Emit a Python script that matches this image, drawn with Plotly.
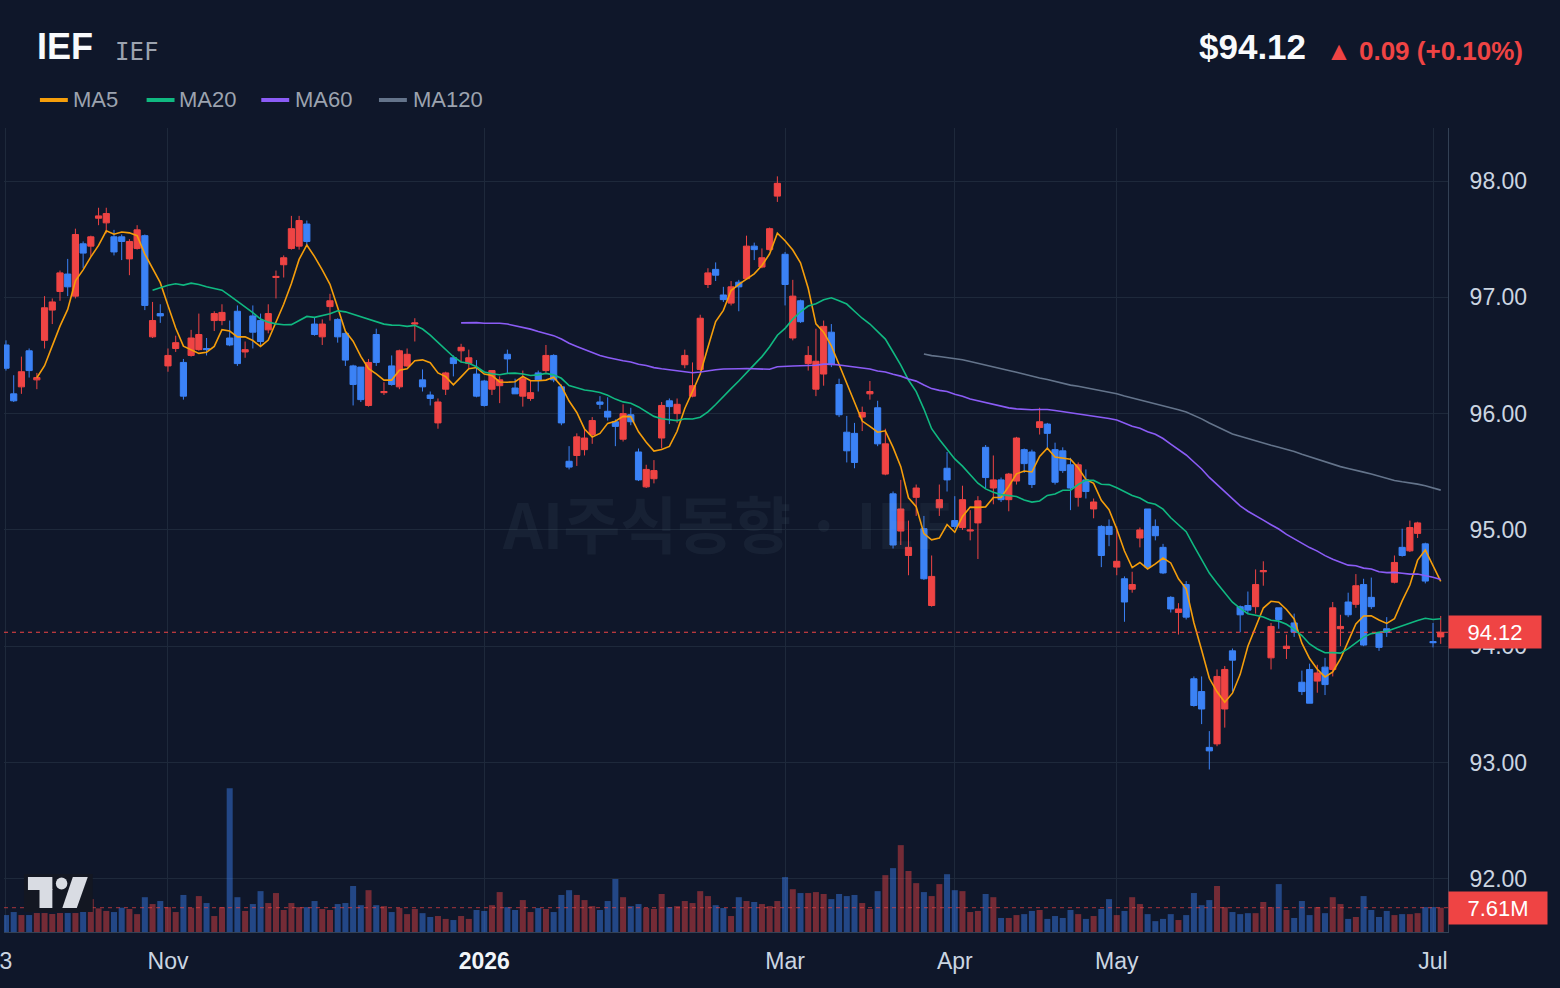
import pandas as pd
import plotly.graph_objects as go

# ---------------- data ----------------
HOLIDAYS = ["2025-11-27", "2025-12-25", "2026-01-01", "2026-01-19",
            "2026-02-16", "2026-04-03", "2026-05-25", "2026-06-19"]
DATES = [d.strftime("%Y-%m-%d") for d in pd.bdate_range("2025-10-03", "2026-07-02")
         if d.strftime("%Y-%m-%d") not in HOLIDAYS]

OPEN = [96.59, 96.17, 96.23, 96.54, 96.29, 96.63, 96.89, 97.05, 97.20, 97.01,
        97.46, 97.44, 97.68, 97.64, 97.52, 97.52, 97.33, 97.42, 97.53, 96.66,
        96.86, 96.41, 96.56, 96.44, 96.50, 96.55, 96.56, 96.80, 96.80, 96.65,
        96.88, 96.53, 96.84, 96.80, 96.72, 97.17, 97.28, 97.42, 97.44, 97.63,
        96.77, 96.66, 96.92, 96.81, 96.69, 96.41, 96.40, 96.07, 96.68, 96.18,
        96.41, 96.23, 96.41, 96.77, 96.29, 96.16, 95.92, 96.21, 96.48, 96.54,
        96.43, 96.34, 96.28, 96.21, 96.24, 96.51, 96.22, 96.15, 96.13, 96.35,
        96.37, 96.50, 96.23, 95.59, 95.64, 95.69, 95.82, 96.10, 96.02, 95.93,
        95.78, 95.99, 95.67, 95.37, 95.44, 95.79, 96.11, 96.00, 96.42, 96.15,
        96.38, 97.11, 97.24, 97.02, 96.95, 97.13, 97.16, 97.44, 97.26, 97.41,
        97.87, 97.37, 96.65, 96.97, 96.43, 96.21, 96.34, 96.70, 96.25, 95.84,
        95.83, 95.97, 96.17, 96.05, 95.48, 95.31, 94.99, 94.78, 95.28, 95.01,
        94.35, 95.19, 95.53, 95.08, 95.02, 94.99, 95.06, 95.71, 95.36, 95.43,
        95.26, 95.42, 95.69, 95.67, 95.88, 95.91, 95.69, 95.68, 95.56, 95.28,
        95.43, 95.18, 95.03, 95.03, 94.68, 94.58, 94.49, 94.93, 95.18, 95.03,
        94.85, 94.42, 94.29, 94.53, 93.72, 93.61, 93.13, 93.16, 93.46, 93.96,
        94.34, 94.35, 94.34, 94.64, 93.90, 94.33, 93.98, 94.20, 93.69, 93.80,
        93.70, 93.82, 93.80, 94.15, 94.38, 94.36, 94.53, 94.42, 94.11, 94.15,
        94.55, 94.85, 94.82, 94.97, 94.88, 94.04, 94.08]

HIGH = [96.63, 96.33, 96.49, 96.56, 96.35, 97.01, 96.99, 97.23, 97.33, 97.59,
        97.48, 97.53, 97.77, 97.77, 97.58, 97.54, 97.50, 97.62, 97.54, 96.96,
        96.94, 96.56, 96.67, 96.47, 96.72, 96.86, 96.65, 96.88, 96.94, 96.80,
        96.93, 96.62, 96.93, 96.86, 96.94, 97.23, 97.36, 97.70, 97.70, 97.66,
        96.83, 96.81, 97.03, 96.82, 96.70, 96.42, 96.40, 96.47, 96.73, 96.27,
        96.50, 96.55, 96.56, 96.82, 96.38, 96.19, 96.13, 96.36, 96.50, 96.60,
        96.55, 96.46, 96.29, 96.37, 96.32, 96.55, 96.30, 96.37, 96.29, 96.37,
        96.59, 96.51, 96.25, 95.72, 95.83, 95.86, 95.97, 96.15, 96.14, 95.95,
        96.08, 96.05, 95.70, 95.56, 95.60, 96.10, 96.13, 96.13, 96.55, 96.44,
        96.85, 97.25, 97.30, 97.09, 97.14, 97.15, 97.53, 97.47, 97.42, 97.60,
        98.04, 97.39, 97.15, 96.98, 96.58, 96.73, 96.80, 96.77, 96.30, 95.98,
        95.92, 96.06, 96.28, 96.11, 95.87, 95.33, 95.43, 95.08, 95.39, 95.12,
        94.78, 95.39, 95.67, 95.29, 95.38, 95.17, 95.29, 95.73, 95.64, 95.45,
        95.49, 95.80, 95.70, 95.69, 96.05, 95.92, 95.75, 95.71, 95.62, 95.58,
        95.52, 95.27, 95.04, 95.09, 95.03, 94.60, 94.64, 95.02, 95.18, 95.09,
        94.88, 94.43, 94.37, 94.56, 93.74, 93.74, 93.27, 93.80, 93.83, 93.98,
        94.35, 94.47, 94.66, 94.73, 94.20, 94.33, 94.10, 94.28, 93.79, 93.85,
        93.84, 93.90, 94.38, 94.27, 94.46, 94.62, 94.58, 94.59, 94.11, 94.25,
        94.78, 95.01, 95.08, 95.07, 94.89, 94.20, 94.26]

LOW = [96.37, 96.10, 96.17, 96.31, 96.21, 96.56, 96.77, 96.97, 97.01, 96.99,
       97.25, 97.35, 97.62, 97.55, 97.36, 97.32, 97.19, 97.41, 96.89, 96.65,
       96.78, 96.36, 96.53, 96.12, 96.49, 96.54, 96.50, 96.71, 96.76, 96.58,
       96.41, 96.48, 96.56, 96.59, 96.69, 96.99, 97.17, 97.41, 97.41, 97.45,
       96.67, 96.59, 96.80, 96.61, 96.41, 96.07, 96.10, 96.06, 96.41, 96.16,
       96.24, 96.21, 96.40, 96.62, 96.19, 96.07, 95.87, 96.16, 96.32, 96.44,
       96.39, 96.14, 96.06, 96.16, 96.09, 96.34, 96.17, 96.06, 96.11, 96.19,
       96.35, 96.27, 95.90, 95.52, 95.55, 95.64, 95.74, 96.04, 95.94, 95.72,
       95.76, 95.90, 95.42, 95.36, 95.40, 95.70, 95.91, 95.92, 96.39, 96.14,
       96.37, 97.08, 97.14, 96.96, 96.93, 96.88, 97.15, 97.32, 97.25, 97.40,
       97.82, 96.93, 96.63, 96.78, 96.37, 96.15, 96.24, 96.40, 95.97, 95.58,
       95.53, 95.85, 96.12, 95.72, 95.47, 94.84, 94.87, 94.61, 95.12, 94.57,
       94.34, 95.12, 95.33, 95.01, 95.00, 94.91, 94.75, 95.36, 95.22, 95.24,
       95.16, 95.39, 95.49, 95.36, 95.82, 95.70, 95.39, 95.49, 95.17, 95.20,
       95.27, 95.10, 94.68, 94.86, 94.61, 94.21, 94.46, 94.85, 94.67, 94.91,
       94.62, 94.29, 94.10, 94.23, 93.48, 93.33, 92.94, 93.14, 93.30, 93.61,
       94.12, 94.28, 94.28, 94.52, 93.80, 94.15, 93.89, 94.08, 93.58, 93.51,
       93.60, 93.58, 93.74, 94.00, 94.25, 94.33, 94.00, 94.32, 93.96, 94.08,
       94.54, 94.77, 94.81, 94.93, 94.54, 93.99, 94.02]

CLOSE = [96.39, 96.11, 96.36, 96.37, 96.31, 96.91, 96.96, 97.21, 97.09, 97.54,
         97.38, 97.52, 97.70, 97.72, 97.39, 97.48, 97.48, 97.58, 96.93, 96.80,
         96.84, 96.50, 96.61, 96.15, 96.65, 96.68, 96.55, 96.86, 96.87, 96.59,
         96.43, 96.55, 96.70, 96.62, 96.86, 97.18, 97.34, 97.59, 97.66, 97.48,
         96.68, 96.77, 96.97, 96.66, 96.46, 96.25, 96.12, 96.44, 96.44, 96.19,
         96.25, 96.54, 96.51, 96.78, 96.23, 96.13, 96.10, 96.35, 96.43, 96.57,
         96.48, 96.15, 96.07, 96.37, 96.29, 96.47, 96.17, 96.30, 96.18, 96.29,
         96.50, 96.29, 95.92, 95.54, 95.80, 95.79, 95.94, 96.08, 95.97, 95.89,
         96.00, 95.93, 95.43, 95.52, 95.51, 96.07, 96.06, 96.08, 96.50, 96.24,
         96.82, 97.21, 97.19, 96.98, 97.09, 97.09, 97.44, 97.41, 97.34, 97.59,
         97.98, 97.11, 97.01, 96.79, 96.50, 96.45, 96.75, 96.42, 95.99, 95.68,
         95.58, 96.01, 96.19, 95.74, 95.74, 94.87, 95.18, 94.85, 95.36, 94.58,
         94.60, 95.26, 95.43, 95.03, 95.26, 95.00, 95.25, 95.45, 95.43, 95.26,
         95.48, 95.79, 95.57, 95.39, 95.93, 95.83, 95.41, 95.51, 95.36, 95.56,
         95.33, 95.24, 94.78, 94.96, 94.73, 94.38, 94.53, 95.00, 94.68, 94.95,
         94.63, 94.32, 94.32, 94.25, 93.49, 93.46, 93.10, 93.74, 93.80, 93.88,
         94.27, 94.31, 94.53, 94.65, 94.17, 94.23, 94.00, 94.12, 93.61, 93.51,
         93.77, 93.67, 94.33, 94.17, 94.27, 94.52, 94.01, 94.34, 93.99, 94.12,
         94.72, 94.78, 95.02, 95.06, 94.56, 94.03, 94.12]

VOLUME_M = [5.31, 6.25, 5.31, 5.31, 5.94, 5.94, 5.63, 5.94, 5.94, 5.94,
            8.0, 10.3, 7.4, 6.6, 6.25, 7.6, 7.2, 5.6, 10.9, 8.75,
            9.7, 7.8, 6.25, 11.6, 7.6, 11.25, 9.07, 5.0, 7.8, 45.0,
            10.9, 6.6, 8.75, 12.8, 9.07, 12.2, 6.9, 9.07, 7.8, 7.8,
            9.7, 7.2, 6.9, 8.75, 9.07, 14.4, 8.4, 13.1, 8.4, 8.1,
            6.25, 7.5, 5.6, 7.2, 5.9, 4.7, 5.0, 4.1, 3.75, 5.0,
            4.1, 6.9, 6.6, 8.4, 12.5, 7.8, 6.9, 10.0, 6.25, 7.5,
            7.2, 6.25, 11.6, 13.1, 11.6, 10.0, 8.1, 6.9, 9.7, 16.6,
            10.9, 8.1, 8.75, 7.5, 7.2, 11.9, 7.8, 8.1, 9.7, 9.07,
            12.8, 11.25, 8.4, 7.5, 5.0, 10.9, 9.7, 9.4, 8.75, 8.1,
            9.7, 17.2, 13.4, 12.2, 12.2, 12.5, 11.9, 10.3, 11.9, 11.25,
            11.6, 9.07, 7.2, 12.8, 17.8, 20.0, 27.2, 19.1, 15.3, 12.5,
            11.25, 15.0, 18.1, 13.1, 12.8, 6.25, 6.6, 11.9, 10.9, 4.4,
            4.4, 5.3, 5.6, 6.6, 6.9, 4.1, 5.0, 4.4, 6.9, 5.6,
            4.1, 5.0, 7.2, 10.3, 5.3, 6.6, 10.9, 8.75, 5.6, 3.4,
            4.1, 5.6, 3.75, 5.3, 12.2, 8.4, 10.0, 14.4, 7.8, 6.25,
            5.6, 5.9, 5.9, 9.4, 7.8, 15.0, 6.9, 4.4, 9.7, 5.3,
            7.8, 5.9, 10.9, 8.75, 4.1, 4.7, 11.25, 6.9, 4.7, 6.6,
            5.3, 5.6, 5.6, 5.9, 7.8, 7.8, 7.61]

TICK_DATES = ["2025-10-03", "2025-11-03", "2026-01-02", "2026-03-02",
              "2026-04-01", "2026-05-01", "2026-07-01"]
TICK_TEXT = ["3", "Nov", "<b><span style='color:#f1f5f9'>2026</span></b>",
             "Mar", "Apr", "May", "Jul"]
PRICE_TICKS = [92, 93, 94, 95, 96, 97, 98]

MA_PERIODS = [5, 20, 60, 120]
MA_COLORS = ["#f59e0b", "#10b981", "#8b5cf6", "#64748b"]
MA_NAMES = ["MA5", "MA20", "MA60", "MA120"]

LAST_PRICE = CLOSE[-1]
PREV_CLOSE = CLOSE[-2]
LAST_VOL = VOLUME_M[-1]

# ---------------- styling ----------------
BG = "#0f172a"
GRID = "#1e293b"
UP = "#ef4444"
DOWN = "#3b82f6"
FONT = "Liberation Sans, Arial, sans-serif"

W, H = 1560, 988
ML, MR, MT, MB = 0, 112, 128, 56
PW, PH = W - ML - MR, H - MT - MB
BAR_PX = 7.735   # pixels per bar
FIRST_PX = 2.0   # pixel position of first bar


def px(x):
    return x / PW


def py(y):
    return (H - MB - y) / PH


vol = [v * 1e6 for v in VOLUME_M]
vol_colors = ["rgba(239,68,68,0.45)" if c > o else "rgba(59,130,246,0.45)"
              for o, c in zip(OPEN, CLOSE)]

fig = go.Figure()

fig.add_trace(go.Bar(
    x=DATES, y=vol, yaxis="y2", marker=dict(color=vol_colors, line=dict(width=0)),
    showlegend=False, hoverinfo="skip"))

fig.add_trace(go.Candlestick(
    x=DATES, open=OPEN, high=HIGH, low=LOW, close=CLOSE,
    increasing=dict(line=dict(color=UP, width=1), fillcolor=UP),
    decreasing=dict(line=dict(color=DOWN, width=1), fillcolor=DOWN),
    whiskerwidth=0, showlegend=False, hoverinfo="skip"))

close_s = pd.Series(CLOSE)
for n, col, name in zip(MA_PERIODS, MA_COLORS, MA_NAMES):
    fig.add_trace(go.Scatter(
        x=DATES, y=close_s.rolling(n).mean(), mode="lines",
        line=dict(color=col, width=1.6), name=name, showlegend=False,
        hoverinfo="skip"))

x_lo = -FIRST_PX / BAR_PX
x_hi = (PW - FIRST_PX) / BAR_PX

p_top = 98 + (181 - MT) / 116.3
p_bot = p_top - PH / 116.3
vol_top = PH / (931 - 906.7) * LAST_VOL * 1e6

fig.update_layout(
    width=W, height=H,
    margin=dict(l=ML, r=MR, t=MT, b=MB),
    paper_bgcolor=BG, plot_bgcolor=BG,
    font=dict(family=FONT, color="#cbd5e1"),
    hovermode=False, bargap=0.22, boxgap=0.2, boxgroupgap=0,
    xaxis=dict(type="category", range=[x_lo, x_hi], rangeslider=dict(visible=False),
               tickmode="array", tickvals=TICK_DATES, ticktext=TICK_TEXT,
               showgrid=True, gridcolor=GRID, gridwidth=1,
               showline=True, linecolor="#334155", linewidth=1,
               ticks="", tickfont=dict(size=23, color="#cbd5e1", family=FONT),
               ticklabelstandoff=8, zeroline=False, fixedrange=True),
    yaxis=dict(side="right", range=[p_bot, p_top], tickmode="array",
               tickvals=PRICE_TICKS, tickformat=".2f",
               showgrid=True, gridcolor=GRID, gridwidth=1,
               showline=True, linecolor="#334155", linewidth=1,
               ticks="", tickfont=dict(size=23, color="#cbd5e1", family=FONT),
               ticklabelstandoff=16, zeroline=False, fixedrange=True),
    yaxis2=dict(overlaying="y", range=[0, vol_top], visible=False,
                showgrid=False, fixedrange=True),
)

shapes = []
# last price line
shapes.append(dict(type="line", xref="paper", yref="y", x0=0, x1=1,
                   y0=LAST_PRICE, y1=LAST_PRICE,
                   line=dict(color=UP, width=1.2, dash="4px,4px")))
# last volume line
shapes.append(dict(type="line", xref="paper", yref="y2", x0=0, x1=1,
                   y0=LAST_VOL * 1e6, y1=LAST_VOL * 1e6,
                   line=dict(color="rgba(239,68,68,0.55)", width=1.2, dash="4px,4px")))
# legend swatches
legend_x = [36, 143, 258, 376]
for lx, col in zip(legend_x, MA_COLORS):
    shapes.append(dict(type="line", xref="paper", yref="paper",
                       x0=px(lx), x1=px(lx + 28), y0=py(100), y1=py(100),
                       line=dict(color=col, width=4)))
# TradingView-like logo
LOGO = "#d9dce3"
shapes.append(dict(type="rect", xref="paper", yref="paper",
                   x0=px(20), x1=px(89), y0=py(912), y1=py(874),
                   fillcolor="#131722", line=dict(width=0)))
shapes.append(dict(type="rect", xref="paper", yref="paper",
                   x0=px(24), x1=px(48.5), y0=py(890), y1=py(877),
                   fillcolor=LOGO, line=dict(width=0)))
shapes.append(dict(type="rect", xref="paper", yref="paper",
                   x0=px(35.6), x1=px(48.5), y0=py(908), y1=py(889),
                   fillcolor=LOGO, line=dict(width=0)))
shapes.append(dict(type="circle", xref="paper", yref="paper",
                   x0=px(52), x1=px(63.5), y0=py(889.5), y1=py(877.5),
                   fillcolor=LOGO, line=dict(width=0)))
path = "M {},{} L {},{} L {},{} L {},{} Z".format(
    px(69), py(877), px(84), py(877), px(73), py(908), px(58.5), py(908))
shapes.append(dict(type="path", xref="paper", yref="paper", path=path,
                   fillcolor=LOGO, line=dict(width=0)))
fig.update_layout(shapes=shapes)

ann = []
# watermark
ann.append(dict(text="<b>AI주식동향 · IEF</b>", xref="paper", yref="paper",
                x=px(725), y=py(522), xanchor="center", yanchor="middle",
                showarrow=False,
                font=dict(size=62, color="rgba(148,163,184,0.07)",
                          family="Noto Sans CJK KR, Noto Sans, sans-serif")))
# header
ann.append(dict(text="<b>IEF</b>", xref="paper", yref="paper", x=px(31), y=py(47),
                xanchor="left", yanchor="middle", showarrow=False,
                font=dict(size=36, color="#f8fafc", family=FONT)))
ann.append(dict(text="IEF", xref="paper", yref="paper", x=px(109), y=py(52),
                xanchor="left", yanchor="middle", showarrow=False,
                font=dict(size=24, color="#9ca3af", family="DejaVu Sans Mono, monospace")))
ann.append(dict(text="<b>${:.2f}</b>".format(LAST_PRICE), xref="paper", yref="paper",
                x=px(1308), y=py(47), xanchor="right", yanchor="middle",
                showarrow=False, font=dict(size=35, color="#f8fafc", family=FONT)))
chg = LAST_PRICE - PREV_CLOSE
pct = chg / PREV_CLOSE * 100
ann.append(dict(text="<b>▲ {:.2f} (+{:.2f}%)</b>".format(chg, pct), xref="paper",
                yref="paper", x=px(1525), y=py(51), xanchor="right", yanchor="middle",
                showarrow=False, font=dict(size=26, color=UP, family=FONT)))
# legend labels
legend_tx = [72, 178, 295, 413]
for tx, name in zip(legend_tx, MA_NAMES):
    ann.append(dict(text=name, xref="paper", yref="paper", x=px(tx - 5), y=py(99),
                    xanchor="left", yanchor="middle", showarrow=False,
                    font=dict(size=22, color="#9ca3af", family=FONT)))
# price / volume labels on the right
ann.append(dict(text="{:.2f}".format(LAST_PRICE), xref="paper", yref="y",
                x=1.0, y=LAST_PRICE, xanchor="left", yanchor="middle",
                showarrow=False, bgcolor=UP, width=86, height=26, borderpad=3,
                font=dict(size=22, color="#ffffff", family=FONT)))
ann.append(dict(text="{:.2f}M".format(LAST_VOL), xref="paper", yref="y2",
                x=1.0, y=LAST_VOL * 1e6, xanchor="left", yanchor="middle",
                showarrow=False, bgcolor=UP, width=92, height=26, borderpad=3,
                font=dict(size=22, color="#ffffff", family=FONT)))
fig.update_layout(annotations=ann)

fig.write_html("out.html", config={"displayModeBar": False})
